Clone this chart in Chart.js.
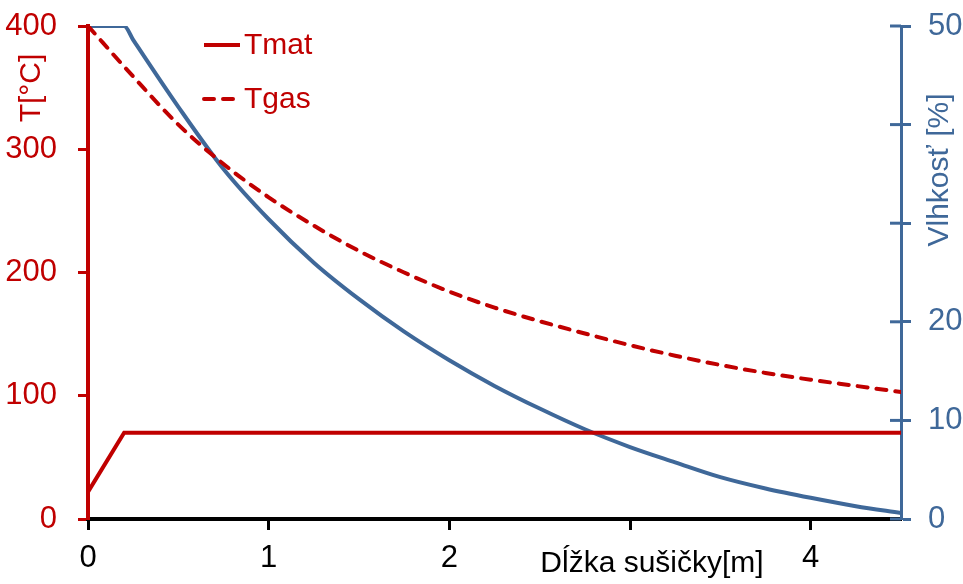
<!DOCTYPE html>
<html>
<head>
<meta charset="utf-8">
<title>Sušička</title>
<script src="https://cdn.jsdelivr.net/npm/chart.js@4.4.1/dist/chart.umd.min.js"></script>
<style>
  html, body { margin: 0; padding: 0; background: #fff; }
  #wrap { width: 963px; height: 584px; position: relative; }
</style>
</head>
<body>
<div id="wrap"><canvas id="dryerChart"></canvas></div>
<script>
// dryer length [m] where the gas temperature was read
const gasPositions = [0, 0.25, 0.5, 0.75, 1, 1.25, 1.5, 1.75, 2, 2.25, 2.5, 2.75, 3, 3.25, 3.5, 3.75, 4, 4.25, 4.5];
const tgasValues = [400, 359, 320, 288, 261, 238, 217.5, 200, 184.5, 171.5, 160.5, 150.5, 141, 132.5, 125, 118.5, 113, 108, 103];

// material temperature: heats up in the first 0.2 m, then stays at 70 °C
const matPositions = [0, 0.2, 4.5];
const tmatValues = [22, 70, 70];

// moisture [%] along the dryer
const moisturePositions = [0, 0.2, 0.25, 0.5, 0.75, 1, 1.25, 1.5, 1.75, 2, 2.25, 2.5, 2.75, 3, 3.25, 3.5, 3.75, 4, 4.25, 4.5];
const moistureValues = [50, 50, 48.6, 41.8, 35.5, 30.4, 26.0, 22.3, 19.0, 16.1, 13.5, 11.2, 9.1, 7.3, 5.75, 4.25, 3.1, 2.15, 1.3, 0.6];

const xTicks = [0, 1, 2, 3, 4];
const tempTicks = [0, 100, 200, 300, 400];
const moistureTicks = [0, 10, 20, 30, 40, 50];

const RED = '#C00000';
const BLUE = '#3F6899';
const FONT = "'Liberation Sans', Arial, sans-serif";

const toPoints = (xs, ys) => xs.map((x, i) => ({ x: x, y: ys[i] }));

// the value axes must not push the plot down for their end labels
const noEndPadding = scale => {
    scale.paddingTop = 0;
    scale.paddingBottom = 0;
};

// axis titles and legend sit inside the tick rows / plot, so draw them by hand
const annotations = {
    id: 'annotations',
    afterDatasetsDraw(chart) {
        const ctx = chart.ctx;
        const area = chart.chartArea;
        const right = chart.scales.yMoist;

        ctx.save();
        // inner half of the moisture ticks (they cross the axis)
        ctx.strokeStyle = BLUE;
        ctx.lineWidth = 3;
        moistureTicks.forEach(v => {
            const y = right.getPixelForValue(v);
            ctx.beginPath();
            ctx.moveTo(area.right - 11, y);
            ctx.lineTo(area.right, y);
            ctx.stroke();
        });

        // legend
        ctx.font = `30px ${FONT}`;
        ctx.textBaseline = 'middle';
        ctx.textAlign = 'left';
        const legendRows = [
            { ds: chart.data.datasets[0], y: 45 },
            { ds: chart.data.datasets[1], y: 99 }
        ];
        legendRows.forEach(row => {
            ctx.strokeStyle = row.ds.borderColor;
            ctx.lineWidth = row.ds.borderWidth;
            ctx.lineCap = row.ds.borderCapStyle || 'butt';
            ctx.setLineDash(row.ds.borderDash || []);
            ctx.beginPath();
            ctx.moveTo(204, row.y);
            ctx.lineTo(240, row.y);
            ctx.stroke();
            ctx.setLineDash([]);
            ctx.fillStyle = RED;
            ctx.fillText(row.ds.label, 244, row.y + 1);
        });

        // x axis title, placed in the tick row next to the 4 m label
        ctx.font = `30px ${FONT}`;
        ctx.fillStyle = '#000';
        ctx.textAlign = 'center';
        ctx.fillText('Dĺžka sušičky[m]', 652, 564);

        // left title
        ctx.save();
        ctx.translate(32, 88);
        ctx.rotate(-Math.PI / 2);
        ctx.fillStyle = RED;
        ctx.fillText('T[°C]', 0, 0);
        ctx.restore();

        // right title
        ctx.save();
        ctx.translate(940, 170);
        ctx.rotate(-Math.PI / 2);
        ctx.fillStyle = BLUE;
        ctx.fillText('Vlhkosť [%]', 0, 0);
        ctx.restore();

        ctx.restore();
    }
};

document.addEventListener('DOMContentLoaded', function () {
    const ctx = document.getElementById('dryerChart').getContext('2d');

    new Chart(ctx, {
        type: 'line',
        data: {
            datasets: [
                {
                    label: 'Tmat',
                    data: toPoints(matPositions, tmatValues),
                    yAxisID: 'yTemp',
                    borderColor: RED,
                    borderWidth: 4,
                    pointRadius: 0,
                    tension: 0
                },
                {
                    label: 'Tgas',
                    data: toPoints(gasPositions, tgasValues),
                    yAxisID: 'yTemp',
                    borderColor: RED,
                    borderWidth: 4,
                    borderDash: [10, 9],
                    borderCapStyle: 'round',
                    pointRadius: 0,
                    cubicInterpolationMode: 'monotone'
                },
                {
                    label: 'Vlhkosť',
                    data: toPoints(moisturePositions, moistureValues),
                    yAxisID: 'yMoist',
                    borderColor: BLUE,
                    borderWidth: 4,
                    pointRadius: 0,
                    cubicInterpolationMode: 'monotone'
                }
            ]
        },
        options: {
            responsive: true,
            maintainAspectRatio: false,
            animation: false,
            layout: { padding: { top: 26, right: 0, bottom: 0, left: 0 } },
            plugins: {
                legend: { display: false },
                tooltip: { enabled: false }
            },
            scales: {
                x: {
                    type: 'linear',
                    min: 0,
                    max: 4.5,
                    afterFit: scale => { scale.height = 65; },
                    afterBuildTicks: scale => { scale.ticks = xTicks.map(v => ({ value: v })); },
                    border: { color: '#000', width: 4 },
                    grid: { drawOnChartArea: false, tickLength: 11, tickWidth: 3, tickColor: '#000' },
                    ticks: {
                        color: '#000',
                        font: { family: FONT, size: 31 },
                        padding: 10,
                        maxRotation: 0,
                        callback: v => (v === 3 ? '' : v)
                    }
                },
                yTemp: {
                    position: 'left',
                    min: 0,
                    max: 400,
                    afterFit: scale => { scale.width = 88; noEndPadding(scale); },
                    afterBuildTicks: scale => { scale.ticks = tempTicks.map(v => ({ value: v })); },
                    border: { color: RED, width: 4 },
                    grid: { drawOnChartArea: false, tickLength: 10, tickWidth: 3, tickColor: RED },
                    ticks: {
                        color: RED,
                        font: { family: FONT, size: 31 },
                        padding: 21
                    }
                },
                yMoist: {
                    position: 'right',
                    min: 0,
                    max: 50,
                    afterFit: scale => { scale.width = 62; noEndPadding(scale); },
                    afterBuildTicks: scale => { scale.ticks = moistureTicks.map(v => ({ value: v })); },
                    border: { color: BLUE, width: 3 },
                    grid: { drawOnChartArea: false, tickLength: 10, tickWidth: 3, tickColor: BLUE },
                    ticks: {
                        color: BLUE,
                        font: { family: FONT, size: 31 },
                        padding: 17,
                        callback: v => (v === 30 || v === 40 ? '' : v)
                    }
                }
            }
        },
        plugins: [annotations]
    });
});
</script>
</body>
</html>
